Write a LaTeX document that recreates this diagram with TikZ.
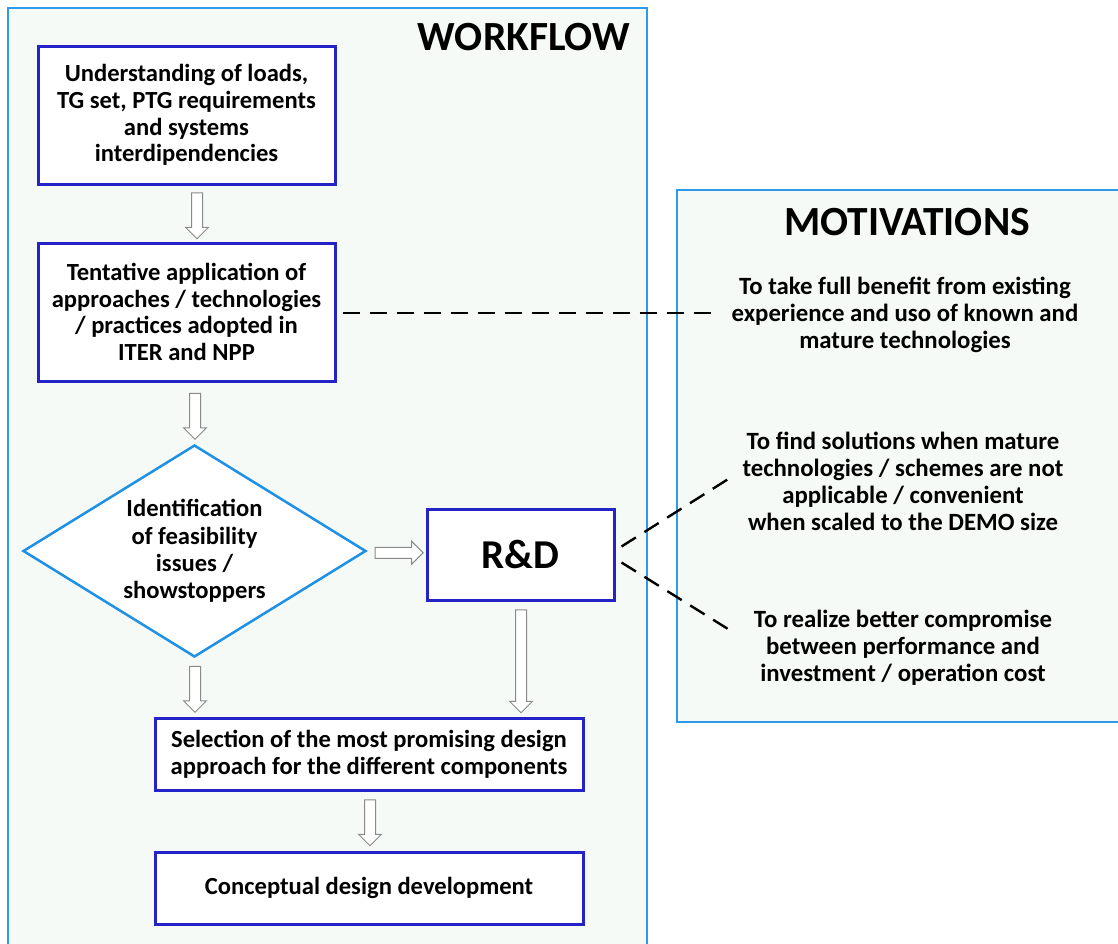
\documentclass[tikz,border=0pt]{standalone}
\usepackage{fontspec}
\setmainfont{Carlito}
\usetikzlibrary{shapes.geometric,shapes.arrows,calc}
\definecolor{panelfill}{HTML}{F5FAF7}
\definecolor{panelline}{HTML}{2E9BEA}
\definecolor{boxline}{HTML}{2323C8}
\definecolor{diamline}{HTML}{1E90E6}
\definecolor{arrline}{HTML}{8A8A8A}
\tikzset{
  panel/.style={fill=panelfill,draw=panelline,line width=2pt},
  flowbox/.style={draw=boxline,line width=3pt,fill=white,align=center,
    font=\bfseries\fontsize{24.6}{26.6}\selectfont,inner sep=0pt},
  decision/.style={diamond,draw=diamline,line width=2.5pt,fill=white,align=center,
    font=\bfseries\fontsize{24.6}{27.3}\selectfont,inner sep=0pt},
  harrow/.style={single arrow,draw=arrline,fill=white,line width=1pt,
    inner sep=5pt,single arrow head extend=6pt,single arrow tip angle=90,
    shape border rotate=270},
  rarrow/.style={single arrow,draw=arrline,fill=white,line width=1pt,
    inner sep=5pt,single arrow head extend=6pt,single arrow tip angle=90},
  motiv/.style={align=center,font=\bfseries\fontsize{24.8}{26.8}\selectfont},
  title/.style={font=\bfseries\fontsize{41.5}{43}\selectfont},
  dline/.style={line width=2.4pt,dash pattern=on 17pt off 10pt},
}
\begin{document}
\begin{tikzpicture}[x=1pt,y=-1pt]
\useasboundingbox (0,0) rectangle (1118,943);
% panels
\draw[panel] (8,8) rectangle (647,960);
\draw[panel] (677,190) rectangle (1130,722);
\node[title] (wf) at (524,37) {WORKFLOW};
\node[title] (mot) at (907,222) {MOTIVATIONS};
% workflow boxes
\node[flowbox,minimum width=297pt,minimum height=138pt] (b1) at (186.5,115)
  {Understanding of loads,\\TG set, PTG requirements\\and systems\\interdipendencies};
\node[flowbox,minimum width=297pt,minimum height=138pt] (b2) at (186.5,312)
  {Tentative application of\\approaches / technologies\\/ practices adopted in\\ITER and NPP};
\node[decision,minimum width=343pt,minimum height=212pt,aspect=1.62] (d) at (194.5,551)
  {Identification\\of feasibility\\issues /\\showstoppers};
\node[flowbox,minimum width=187pt,minimum height=91pt,
  font=\bfseries\fontsize{41}{43}\selectfont] (rd) at (520.5,554.5) {R\&D};
\node[flowbox,minimum width=428pt,minimum height=72pt] (sel) at (369,754)
  {Selection of the most promising design\\approach for the different components};
\node[flowbox,minimum width=428pt,minimum height=72pt] (cd) at (369,888)
  {Conceptual design development};
% hollow arrows
\node[harrow,minimum height=46pt] (a1) at (197,213) {};
\node[harrow,minimum height=46pt] (a2) at (195,413.5) {};
\node[rarrow,minimum height=48pt] (a3) at ($(d.east)!0.5!(rd.west)$) {};
\node[harrow,minimum height=46pt] (a4) at (195,686.5) {};
\node[harrow,minimum height=103pt] (a5) at (521,658.5) {};
\node[harrow,minimum height=46pt] (a6) at (370,820) {};
% motivations
\node[motiv] (m1) at (905,315)
  {To take full benefit from existing\\experience and uso of known and\\mature technologies};
\node[motiv] (m2) at (903,481.5)
  {To find solutions when mature\\technologies / schemes are not\\applicable / convenient\\when scaled to the DEMO size};
\node[motiv] (m3) at (903,647.5)
  {To realize better compromise\\between performance and\\investment / operation cost};
% dashed connectors
\coordinate (c1) at (712,313);
\coordinate (c2) at (733,476);
\coordinate (c3) at (728,629);
\draw[dline] (b2.east |- c1) ++(6,0) -- (c1);
\draw[dline] ($(rd.east)+(6,-8)$) -- (c2);
\draw[dline] ($(rd.east)+(6,8)$) -- (c3);
\end{tikzpicture}
\end{document}
